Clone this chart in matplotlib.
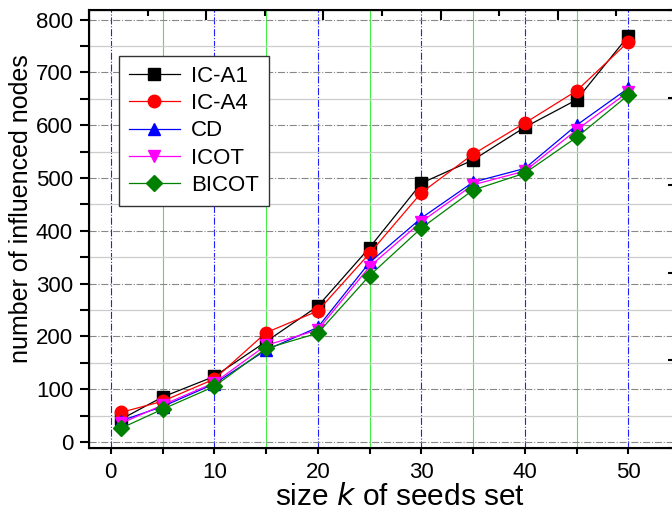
import numpy as np
import matplotlib
matplotlib.use("Agg")
import matplotlib.pyplot as plt
from matplotlib.ticker import MultipleLocator

plt.rcParams['font.family'] = ['Liberation Sans', 'DejaVu Sans']

k = [1, 5, 10, 15, 20, 25, 30, 35, 40, 45, 50]
ic_a1 = [43, 85, 124, 190, 257, 368, 490, 534, 596, 648, 769]
ic_a4 = [56, 77, 119, 207, 248, 357, 472, 545, 604, 665, 758]
cd    = [40, 67, 110, 174, 217, 340, 424, 492, 518, 600, 670]
icot  = [35, 70, 112, 183, 212, 332, 417, 487, 513, 591, 663]
bicot = [26, 62, 105, 177, 206, 315, 405, 477, 509, 577, 657]

series = [
    ("IC-A1", ic_a1, "black", "s", 8),
    ("IC-A4", ic_a4, "red", "o", 9),
    ("CD", cd, "blue", "^", 9),
    ("ICOT", icot, "magenta", "v", 9),
    ("BICOT", bicot, "green", "D", 8),
]

W, H = 672, 521
fig = plt.figure(figsize=(W / 100, H / 100), dpi=100)
left, right, top, bottom = 89, 675, 10, 448
ax = fig.add_axes([left / W, 1 - bottom / H, (right - left) / W, (bottom - top) / H])

for name, vals, col, mk, ms in series:
    ax.plot(k, vals, color=col, marker=mk, markersize=ms, linewidth=0.9,
            label=name, zorder=3)

ax.set_xlim(-2.1, 54.5)
ax.set_ylim(-11.5, 818)

ax.xaxis.set_major_locator(MultipleLocator(10))
ax.xaxis.set_minor_locator(MultipleLocator(5))
ax.yaxis.set_major_locator(MultipleLocator(100))
ax.yaxis.set_minor_locator(MultipleLocator(50))

ax.set_axisbelow(True)
ax.grid(which='major', axis='x', color='#2020ff', linestyle='-.', linewidth=0.8)
ax.grid(which='minor', axis='x', color='#44ee44', linestyle='-', linewidth=0.8)
ax.grid(which='major', axis='y', color='#888888', linestyle='-.', linewidth=0.8)
ax.grid(which='minor', axis='y', color='#cccccc', linestyle='-', linewidth=0.9)

for s in ax.spines.values():
    s.set_linewidth(1.5)

ax.tick_params(axis='both', which='both', direction='out', width=1.5,
               labelsize=16, top=False, right=False)
ax.tick_params(axis='y', which='both', length=6.5, pad=5)
ax.tick_params(axis='x', which='major', length=4, pad=6)
ax.tick_params(axis='x', which='minor', length=4)

ax.set_xlabel("size $\\it{k}$ of seeds set", fontsize=21.5)
ax.set_ylabel("number of influenced nodes", fontsize=18)
ax.xaxis.set_label_coords(0.531, -0.08)
ax.yaxis.set_label_coords(-0.095, 0.547)

# top axis ticks (inward, independent scale)
axt = ax.twiny()
axt.set_xlim(0, 1)
axt.xaxis.set_major_locator(MultipleLocator(0.2))
axt.xaxis.set_minor_locator(MultipleLocator(0.1))
axt.tick_params(axis='x', which='both', direction='in', width=1.5,
                labeltop=False, labelbottom=False, bottom=False)
axt.tick_params(axis='x', which='major', length=7)
axt.tick_params(axis='x', which='minor', length=4)

# right axis ticks (inward)
axr = ax.twinx()
axr.set_ylim(0, 1)
axr.yaxis.set_major_locator(MultipleLocator(0.2))
axr.tick_params(axis='y', which='both', direction='in', width=1.5, length=5,
                labelright=False, labelleft=False, left=False)

leg = ax.legend(loc='upper left', bbox_to_anchor=(0.051, 0.895), borderaxespad=0,
                fontsize=16, fancybox=False, edgecolor='#333333', framealpha=1,
                handlelength=2.3, labelspacing=0.28, handletextpad=0.5,
                borderpad=0.45, shadow=False)
leg.get_frame().set_linewidth(1.0)

fig.savefig("out.png", dpi=100)
